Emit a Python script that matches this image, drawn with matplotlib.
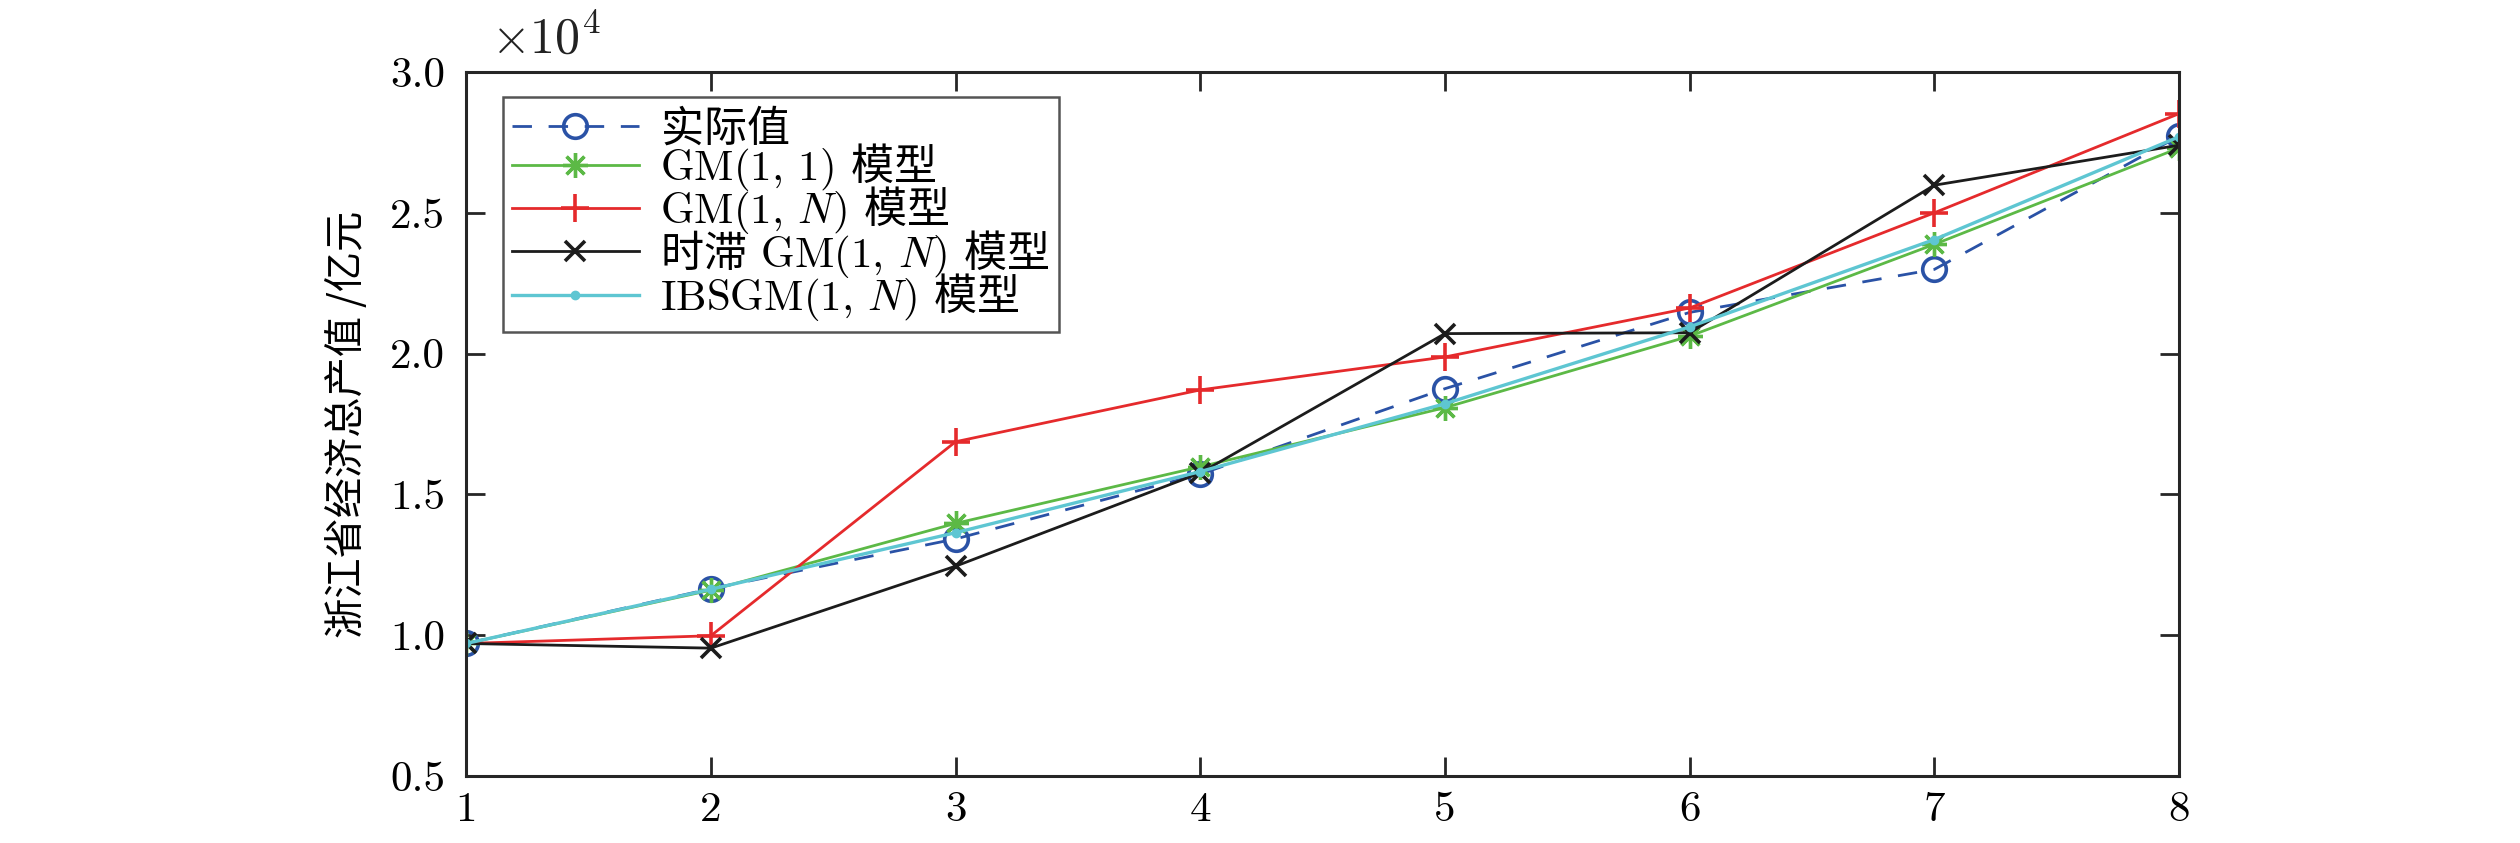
import matplotlib
matplotlib.use("Agg")
import matplotlib.pyplot as plt
import numpy as np

plt.rcParams['mathtext.fontset'] = 'custom'
plt.rcParams['mathtext.rm'] = 'cmr10'
plt.rcParams['mathtext.it'] = 'cmmi10'
plt.rcParams['mathtext.sf'] = 'Noto Sans CJK SC'
plt.rcParams['mathtext.fallback'] = 'cm'
plt.rcParams['axes.unicode_minus'] = False

# values, unit 10^4 (亿元)
years = [1, 2, 3, 4, 5, 6, 7, 8]
actual = [0.9705, 1.1649, 1.3418, 1.5718, 1.8754, 2.1463, 2.2990, 2.7722]
gm11 = [0.9705, 1.160, 1.397, 1.598, 1.808, 2.062, 2.388, 2.730]
gm1n = [0.9705, 0.998, 1.687, 1.871, 1.988, 2.162, 2.500, 2.852]
delay_gm1n = [0.9705, 0.954, 1.245, 1.576, 2.071, 2.074, 2.598, 2.740]
ibsgm = [0.9705, 1.163, 1.364, 1.581, 1.822, 2.095, 2.405, 2.770]

# CJK parts go through \mathsf (Noto Sans CJK), the rest stays in cmr10
labels = [r'$\mathsf{实际值}$',
          r'GM(1, 1) $\mathsf{模型}$',
          r'GM(1, $N$) $\mathsf{模型}$',
          r'$\mathsf{时滞}$ GM(1, $N$) $\mathsf{模型}$',
          r'IBSGM(1, $N$) $\mathsf{模型}$']
yticks = [0.5, 1.0, 1.5, 2.0, 2.5, 3.0]

fams = ['cmr10', 'Noto Sans CJK SC', 'DejaVu Sans']

fig = plt.figure(figsize=(25.2, 8.43), dpi=100)
ax = fig.add_axes([0.185, 0.0795, 0.6797, 0.8351])

lw = 2.0
ax.plot(years, actual, color='#2a52a6', ls=(0, (7, 6)), lw=lw, marker='o',
        ms=17, mfc='none', mew=2.6, label=labels[0])
ax.plot(years, gm11, color='#5cb946', lw=lw, marker=(8, 2, 0), ms=18,
        mew=2.4, label=labels[1])
ax.plot(years, gm1n, color='#e52a2c', lw=lw, marker='+', ms=20,
        mew=2.6, label=labels[2])
ax.plot(years, delay_gm1n, color='#1c1c1c', lw=lw, marker='x', ms=15,
        mew=2.6, label=labels[3])
ax.plot(years, ibsgm, color='#5ec6d2', lw=2.4, marker='o', ms=6,
        label=labels[4])

ax.set_xlim(1, 8)
ax.set_ylim(0.5, 3.0)
ax.set_xticks(years)
ax.set_yticks(yticks)
ax.set_xticklabels([str(v) for v in years], family=fams, fontsize=31)
ax.set_yticklabels(['%.1f' % v for v in yticks], family=fams, fontsize=31)
ax.tick_params(axis='both', direction='in', length=13.7, width=2.0,
               top=True, right=True, color='#262626')
ax.tick_params(axis='x', pad=11)
ax.tick_params(axis='y', pad=15)
for s in ax.spines.values():
    s.set_linewidth(2.2)
    s.set_color('#262626')

ax.set_ylabel('浙江省经济总产值 /亿元', family=['Noto Sans CJK SC', 'DejaVu Sans'],
              fontsize=29, labelpad=16)
ax.text(0.0146, 1.027, r'$\times 10^4$', transform=ax.transAxes,
        fontsize=36, va='baseline', ha='left', color='#222222')

leg = ax.legend(loc='upper left', bbox_to_anchor=(0.0216, 0.9645),
                borderaxespad=0, fancybox=False, edgecolor='#555555',
                framealpha=1, handlelength=2.95, handletextpad=0.5,
                labelspacing=-0.2, borderpad=0.2,
                prop={'family': fams, 'size': 31})
leg.get_frame().set_linewidth(1.8)

fig.savefig('out.png', dpi=100)
